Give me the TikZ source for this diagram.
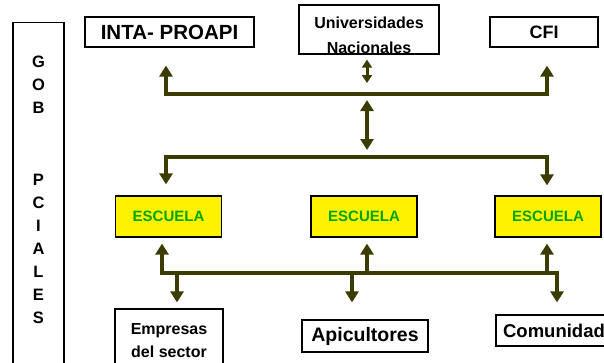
\documentclass[tikz,border=0pt]{standalone}
\usepackage{fontspec}
\setmainfont{Liberation Sans}
\usepackage{xcolor}
\usepackage{tikz}
\usetikzlibrary{
  positioning,
  calc,
  arrows.meta
}
\definecolor{oliva}{RGB}{60,60,0}
\definecolor{verde}{RGB}{0,165,0}

\begin{document}
\begin{tikzpicture}[x=1pt,y=-1pt,
  caja/.style={draw,line width=1.2pt,inner sep=0pt},
  escuela/.style={caja,fill=yellow,text=verde,minimum width=106pt,minimum height=41pt,font=\bfseries\fontsize{15}{18}\selectfont},
  linea/.style={oliva,line width=4pt,>={Triangle[width=13pt,length=11pt]}},
  fina/.style={oliva,line width=3pt,>={Triangle[width=10pt,length=8pt]}}]
  \useasboundingbox (0,0) rectangle (604,362);
  % cajas superiores
  \node[caja,minimum width=169pt,minimum height=30pt,font=\bfseries\fontsize{20.5}{24}\selectfont] (inta) at (169.5,32) {INTA- PROAPI};
  \node[caja,minimum width=140pt,minimum height=49pt,
    label={[anchor=north,inner sep=0pt,yshift=-12pt,align=center,font=\bfseries\fontsize{16}{25}\selectfont]north:Universidades\\Nacionales}] (univ) at (369,29.5) {};
  \node[caja,minimum width=108pt,minimum height=30pt,font=\bfseries\fontsize{18}{22}\selectfont] (cfi) at (544,32) {CFI};
  % gobiernos provinciales
  \node[caja,minimum width=51pt,minimum height=360pt,anchor=north,
    label={[anchor=north,inner sep=0pt,yshift=-34pt,align=center,font=\bfseries\fontsize{16.5}{23}\selectfont]north:G\\O\\B\\[49pt]P\\C\\I\\A\\L\\E\\S}] (gob) at (38.5,22) {};
  % escuelas
  \node[escuela] (esc1) at (168.5,216.5) {ESCUELA};
  \node[escuela] (esc2) at (364,216.5) {ESCUELA};
  \node[escuela] (esc3) at (548,216.5) {ESCUELA};
  % cajas inferiores
  \node[caja,minimum width=108pt,minimum height=64pt,align=center,font=\bfseries\fontsize{16}{23}\selectfont] (empresas) at (169,341) {Empresas\\del sector};
  \node[caja,minimum width=126pt,minimum height=32pt,font=\bfseries\fontsize{19.5}{23}\selectfont] (apic) at (365,336) {Apicultores};
  \node[caja,minimum width=116pt,minimum height=31pt,font=\bfseries\fontsize{18.5}{22}\selectfont] (comu) at (554,330.5) {Comunidad};
  % buses
  \coordinate (a1) at (166,94); %bus superior
  \coordinate (a2) at (547,94);
  \coordinate (u) at (367,94);
  \coordinate (b1) at (166,157); %bus medio
  \coordinate (b2) at (547,157);
  \coordinate (c1) at (162,273); %bus inferior
  \coordinate (c2) at (557,273);
  \draw[linea,<->,shorten <=18pt,shorten >=18pt] (inta.south -| a1) -- (a1) -- (a2) -- (cfi.south -| a2);
  \draw[fina,<->,shorten <=5pt,shorten >=11pt] (univ.south -| u) -- (u);
  \draw[linea,<->,shorten <=6pt,shorten >=7pt] (u) -- (u |- b1);
  \draw[linea,<->,shorten <=11pt,shorten >=10pt] (esc1.north -| b1) -- (b1) -- (b2) -- (esc3.north -| b2);
  \draw[linea,<->,shorten <=6pt,shorten >=12pt] (esc1.south -| c1) -- (c1) -- (c2) -- (comu.north -| c2);
  % ramas del bus inferior
  \coordinate (d1) at (177,273);
  \coordinate (d2) at (367,273);
  \coordinate (d3) at (352,273);
  \coordinate (d4) at (547,273);
  \draw[linea,->,shorten >=6pt] (d1) -- (empresas.north -| d1);
  \draw[linea,->,shorten >=6pt] (d2) -- (esc2.south -| d2);
  \draw[linea,->,shorten >=17pt] (d3) -- (apic.north -| d3);
  \draw[linea,->,shorten >=6pt] (d4) -- (esc3.south -| d4);
\end{tikzpicture}
\end{document}
